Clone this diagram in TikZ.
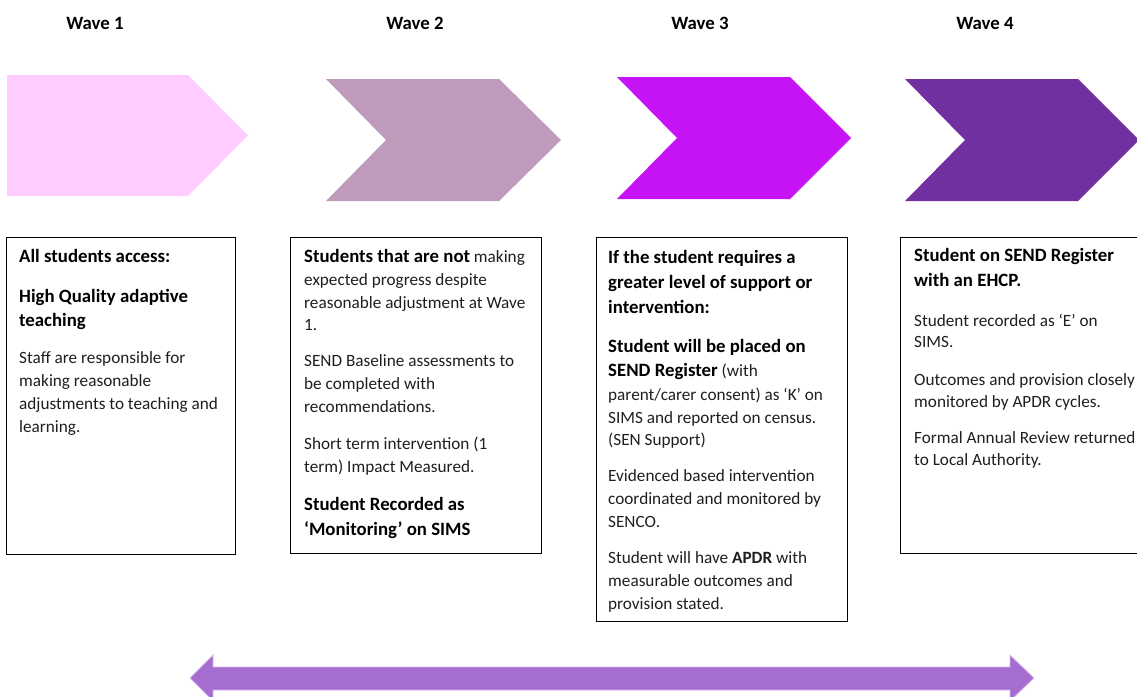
\documentclass[tikz,border=0pt]{standalone}
\usepackage{fontspec}
\setmainfont{Carlito}
\definecolor{wone}{HTML}{FFCCFF}
\definecolor{wtwo}{HTML}{BE9ABB}
\definecolor{wthree}{HTML}{C513F5}
\definecolor{wfour}{HTML}{7030A0}
\definecolor{barcol}{HTML}{A66DD1}
\definecolor{barline}{HTML}{D8B9EE}
\definecolor{txt}{HTML}{1F1F1F}
\newcommand{\hdf}{\fontsize{18.8}{22}\selectfont\bfseries}
\newcommand{\bdf}{\fontsize{17.2}{21}\selectfont}
\tikzset{
  ttl/.style={font=\hdf, anchor=base, inner sep=0pt},
  hd/.style={font=\hdf, anchor=base west, inner sep=0pt, text=black},
  bd/.style={font=\bdf, anchor=base west, inner sep=0pt, text=txt},
  panel/.style={draw=black, line width=0.9pt, fill=white},
}
\begin{document}
\begin{tikzpicture}[x=1pt,y=-1pt]
\clip (0,0) rectangle (1137,696);
\useasboundingbox (0,0) rectangle (1137,696);
% titles
\node[ttl] (t1) at (95,29) {Wave 1};
\node[ttl] (t2) at (415,29) {Wave 2};
\node[ttl] (t3) at (700,29) {Wave 3};
\node[ttl] (t4) at (985,29) {Wave 4};
% chevrons
\fill[wone] (7,75) -- (188,75) -- (248,135.5) -- (188,196) -- (7,196) -- cycle;
\fill[wtwo] (326,79) -- (499,79) -- (561,140) -- (499,201) -- (326,201) -- (386,140) -- cycle;
\fill[wthree] (617,77) -- (790,77) -- (851,138) -- (790,199) -- (617,199) -- (677,138) -- cycle;
\fill[wfour] (905,79) -- (1078,79) -- (1139,140) -- (1078,201) -- (905,201) -- (965,140) -- cycle;
% panels
\draw[panel] (6,237) rectangle (235,554);
\draw[panel] (290,237) rectangle (541,553);
\draw[panel] (596,237) rectangle (847,621);
\draw[panel] (900,237) rectangle (1150,553);
% box 1
\node[hd] (a1) at (19,262) {All students access:};
\node[hd] (a2) at (19,302) {High Quality adaptive};
\node[hd] (a3) at (19,326) {teaching};
\node[bd] (a4) at (19,363) {Staff are responsible for};
\node[bd] (a5) at (19,386) {making reasonable};
\node[bd] (a6) at (19,409) {adjustments to teaching and};
\node[bd] (a7) at (19,432) {learning.};
% box 2
\node[bd] (b1) at (304,262) {{\hdf\color{black}Students that are not} making};
\node[bd] (b2) at (304,285) {expected progress despite};
\node[bd] (b3) at (304,308) {reasonable adjustment at Wave};
\node[bd] (b4) at (304,330) {1.};
\node[bd] (b5) at (304,366) {SEND Baseline assessments to};
\node[bd] (b6) at (304,389) {be completed with};
\node[bd] (b7) at (304,412) {recommendations.};
\node[bd] (b8) at (304,449) {Short term intervention (1};
\node[bd] (b9) at (304,472) {term) Impact Measured.};
\node[hd] (b10) at (304,510) {Student Recorded as};
\node[hd] (b11) at (304,535) {‘Monitoring’ on SIMS};
% box 3
\node[hd] (c1) at (608,263) {If the student requires a};
\node[hd] (c2) at (608,288) {greater level of support or};
\node[hd] (c3) at (608,313) {intervention:};
\node[hd] (c4) at (608,352) {Student will be placed on};
\node[bd] (c5) at (608,376) {{\hdf\color{black}SEND Register} (with};
\node[bd] (c6) at (608,400) {parent/carer consent) as ‘K’ on};
\node[bd] (c7) at (608,423) {SIMS and reported on census.};
\node[bd] (c8) at (608,445) {(SEN Support)};
\node[bd] (c9) at (608,481) {Evidenced based intervention};
\node[bd] (c10) at (608,504) {coordinated and monitored by};
\node[bd] (c11) at (608,527) {SENCO.};
\node[bd] (c12) at (608,563) {Student will have \textbf{APDR} with};
\node[bd] (c13) at (608,586) {measurable outcomes and};
\node[bd] (c14) at (608,609) {provision stated.};
% box 4
\node[hd] (d1) at (914,261) {Student on SEND Register};
\node[hd] (d2) at (914,286) {with an EHCP.};
\node[bd] (d3) at (914,326) {Student recorded as ‘E’ on};
\node[bd] (d4) at (914,347) {SIMS.};
\node[bd] (d5) at (914,385) {Outcomes and provision closely};
\node[bd] (d6) at (914,407) {monitored by APDR cycles.};
\node[bd] (d7) at (914,443) {Formal Annual Review returned};
\node[bd] (d8) at (914,465) {to Local Authority.};
% bottom double arrow
\fill[barcol, draw=barline, line width=0.8pt] (190,678) -- (213,655) -- (213,667) -- (1010,667) -- (1010,655) -- (1034,678) -- (1010,701) -- (1010,690) -- (213,690) -- (213,701) -- cycle;
\end{tikzpicture}
\end{document}
